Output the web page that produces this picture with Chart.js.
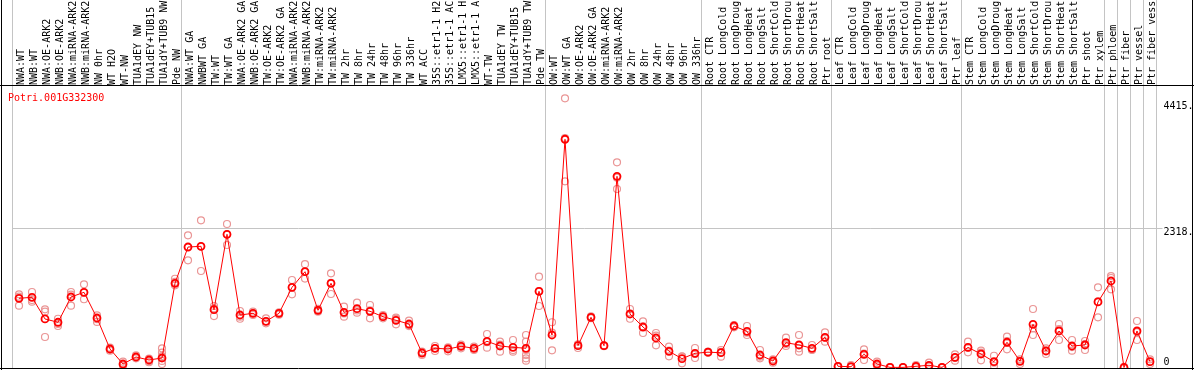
<!DOCTYPE html>
<html lang="en">
<head>
<meta charset="UTF-8" />
<title>Potri.001G332300</title>
<script src="https://cdn.jsdelivr.net/npm/chart.js"></script>
<style>
  html, body { margin: 0; padding: 0; background: #fff; }
  canvas { display: block; }
</style>
</head>
<body>
<canvas id="myCanvas" width="1194" height="370"></canvas>
<script>
  const geneName = "Potri.001G332300";

  const samples = [
    "NWA:WT", "NWB:WT", "NWA:OE-ARK2", "NWB:OE-ARK2", "NWA:miRNA-ARK2", "NWB:miRNA-ARK2",
    "NW 0hr", "WT H2O", "WT-NW", "TUA1dEY NW", "TUA1dEY+TUB15", "TUA1dY+TUB9 NW", "Pde NW",
    "NWA:WT GA", "NWBWT GA", "TW:WT", "TW:WT GA", "NWA:OE-ARK2 GA", "NWB:OE-ARK2 GA",
    "TW:OE-ARK2", "TW:OE-ARK2 GA", "NWA:miRNA-ARK2", "NWB:miRNA-ARK2", "TW:miRNA-ARK2",
    "TW:miRNA-ARK2", "TW 2hr", "TW 8hr", "TW 24hr", "TW 48hr", "TW 96hr", "TW 336hr",
    "WT ACC", "35S::etr1-1 H2", "35S::etr1-1 AC", "LMX5::etr1-1 H", "LMX5::etr1-1 A",
    "WT-TW", "TUA1dEY TW", "TUA1dEY+TUB15", "TUA1dY+TUB9 TW", "Pde TW",
    "OW:WT", "OW:WT GA", "OW:OE-ARK2", "OW:OE-ARK2 GA", "OW:miRNA-ARK2", "OW:miRNA-ARK2",
    "OW 2hr", "OW 8hr", "OW 24hr", "OW 48hr", "OW 96hr", "OW 336hr",
    "Root CTR", "Root LongCold", "Root LongDroug", "Root LongHeat", "Root LongSalt",
    "Root ShortCold", "Root ShortDrou", "Root ShortHeat", "Root ShortSalt", "Ptr root",
    "Leaf CTR", "Leaf LongCold", "Leaf LongDroug", "Leaf LongHeat", "Leaf LongSalt",
    "Leaf ShortCold", "Leaf ShortDrou", "Leaf ShortHeat", "Leaf ShortSalt", "Ptr leaf",
    "Stem CTR", "Stem LongCold", "Stem LongDroug", "Stem LongHeat", "Stem LongSalt",
    "Stem ShortCold", "Stem ShortDrou", "Stem ShortHeat", "Stem ShortSalt", "Ptr shoot",
    "Ptr xylem", "Ptr phloem", "Ptr fiber", "Ptr vessel", "Ptr fiber vess"
  ];

  // first sample of each group (gray separators), plus the end
  const groupStarts = [0, 13, 41, 53, 63, 73, 84, 85, 86, 87, 88];

  const means = [
    1152, 1169, 808, 753, 1174, 1252, 824, 308, 58, 175, 125, 158, 1402,
    2006, 2018, 962, 2218, 874, 902, 769, 902, 1335, 1595, 952, 1402, 919, 979, 936,
    846, 786, 724, 241, 320, 308, 353, 320, 436, 358, 336, 320, 1269,
    541, 3800, 363, 836, 363, 3183, 891, 674, 491, 270, 147, 236,
    255, 246, 691, 603, 208, 108, 413, 375, 320, 503,
    20, 13, 220, 58, 2, 2, 20, 37, 2, 170,
    335, 225, 97, 420, 103, 719, 275, 608, 358, 375, 1091,
    1440, 0, 608, 97
  ];

  const replicates = [
    [1219, 1179, 1029], [1257, 1124, 1096], [969, 929, 508], [812, 724, 691],
    [1257, 1212, 1029], [1385, 1252, 1136], [869, 803, 758], [330, 296, 280],
    [97, 53, 30], [203, 170, 153], [147, 103, 87], [320, 246, 190, 110, 58],
    [1478, 1424, 1369],
    [2201, 2006, 1785], [2451, 2018, 1607], [1024, 986, 857], [2389, 2218, 2040],
    [941, 846, 812], [929, 902, 874], [819, 769, 736], [920, 902, 880],
    [1457, 1335, 1219], [1720, 1590, 1480], [975, 950, 930], [1568, 1410, 1224],
    [1012, 900, 846], [1079, 950, 912], [1041, 950, 819], [874, 846, 819],
    [829, 810, 719], [779, 708, 690], [263, 250, 208], [358, 325, 275],
    [336, 318, 270], [380, 360, 320], [346, 322, 291], [558, 420, 330],
    [430, 380, 263], [458, 290, 263], [541, 430, 291, 208, 153, 113], [1512, 1270, 1024],
    [753, 580, 286], [4482, 3820, 3100], [385, 380, 325], [850, 836, 820],
    [370, 362, 355], [3417, 3160, 2972], [974, 890, 812], [769, 680, 574],
    [574, 530, 370], [346, 280, 186], [186, 180, 70], [325, 225, 158],
    [265, 250, 245], [291, 260, 180], [708, 695, 669], [691, 580, 541],
    [291, 180, 153], [136, 108, 80], [496, 390, 358], [541, 320, 263],
    [375, 295, 291], [586, 495, 430],
    [25, 20, 12], [40, 5, 0], [303, 230, 125], [97, 40, 25], [5, 2, 0],
    [3, 1, 0], [42, 20, 3], [80, 25, 13], [3, 2, 0], [220, 160, 113],
    [430, 330, 253], [280, 250, 120], [196, 80, 25], [513, 440, 303],
    [136, 110, 58], [974, 650, 541], [320, 280, 225], [724, 640, 458],
    [458, 340, 280], [441, 390, 291], [1335, 1100, 836],
    [1523, 1490, 1302], [10, 0, 0], [774, 590, 458], [136, 95, 58]
  ];

  const yTicks = [0, 2318, 4415];
  const yMin = -25;
  const yMax = 4687;

  const monoFont = { family: "'DejaVu Sans Mono', monospace", size: 10 };
  const gray = "#c4c4c4";

  // one dataset per replicate slot so every point sits on its own category
  const maxReps = Math.max(...replicates.map(r => r.length));
  const repDatasets = [];
  for (let k = 0; k < maxReps; k++) {
    repDatasets.push({
      type: "line",
      label: "rep " + (k + 1),
      data: replicates.map(r => (k < r.length ? r[k] : null)),
      showLine: false,
      pointStyle: "circle",
      pointRadius: 3.5,
      pointBorderWidth: 1.2,
      pointBorderColor: "rgb(234,150,150)",
      pointBackgroundColor: "rgba(0,0,0,0)",
      order: 2
    });
  }

  const frameAndTitle = {
    id: "frameAndTitle",
    beforeDraw(chart) {
      // "0" label is pulled up so it stays inside the frame
      const items = chart.scales.y.getLabelItems();
      items.forEach(function (it) {
        if (it.label === "0") it.options.translation[1] = chart.chartArea.bottom - 7;
      });
    },
    afterDraw(chart) {
      const ctx = chart.ctx;
      ctx.save();
      ctx.strokeStyle = "#000";
      ctx.lineWidth = 1;
      ctx.beginPath();
      ctx.moveTo(0, 85.5); ctx.lineTo(1194, 85.5);
      ctx.moveTo(0, 368.5); ctx.lineTo(1194, 368.5);
      ctx.moveTo(1.5, 0); ctx.lineTo(1.5, 370);
      ctx.moveTo(1192.5, 0); ctx.lineTo(1192.5, 370);
      ctx.stroke();
      ctx.fillStyle = "#ff0000";
      ctx.font = "10px 'DejaVu Sans Mono', monospace";
      ctx.textBaseline = "alphabetic";
      ctx.fillText(geneName, 8, 101);
      ctx.restore();
    }
  };

  const config = {
    type: "line",
    data: {
      labels: samples,
      datasets: [
        {
          label: geneName,
          data: means,
          borderColor: "#ff0000",
          borderWidth: 1,
          tension: 0,
          pointStyle: "circle",
          pointRadius: 3.5,
          pointBorderWidth: 1.8,
          pointBorderColor: "#ff0000",
          pointBackgroundColor: "rgba(0,0,0,0)",
          order: 1
        }
      ].concat(repDatasets)
    },
    options: {
      responsive: false,
      animation: false,
      devicePixelRatio: 1,
      layout: { autoPadding: false, padding: { left: 12.5, right: 0, top: 0, bottom: 1 } },
      plugins: {
        legend: { display: false },
        title: { display: false },
        tooltip: { enabled: false }
      },
      scales: {
        x: {
          type: "category",
          position: "top",
          offset: true,
          afterFit: function (scale) {
            scale.height = 86;
            scale.paddingLeft = 0;
            scale.paddingRight = 0;
          },
          border: { display: false },
          grid: {
            offset: true,
            tickLength: 86,
            lineWidth: 1,
            color: function (ctx) {
              const i = ctx.index === undefined ? samples.length : ctx.index;
              return groupStarts.includes(i) ? gray : "rgba(0,0,0,0)";
            }
          },
          ticks: {
            autoSkip: false,
            minRotation: 90,
            maxRotation: 90,
            padding: -85,
            labelOffset: 14,
            color: "#000",
            font: monoFont
          }
        },
        y: {
          position: "right",
          min: yMin,
          max: yMax,
          afterBuildTicks: function (scale) {
            scale.ticks = yTicks.map(v => ({ value: v }));
          },
          afterFit: function (scale) {
            scale.width = 37.5;
            scale.paddingTop = 0;
            scale.paddingBottom = 0;
          },
          border: { display: false },
          grid: {
            tickLength: 6,
            color: function (ctx) {
              return ctx.tick && ctx.tick.value === 2318 ? gray : "rgba(0,0,0,0)";
            }
          },
          ticks: {
            padding: 1,
            labelOffset: 4,
            color: "#000",
            font: monoFont,
            callback: function (v) { return v === 0 ? "0" : v + "."; }
          }
        }
      }
    },
    plugins: [frameAndTitle]
  };

  const myChart = new Chart(document.getElementById("myCanvas"), config);
</script>
</body>
</html>
